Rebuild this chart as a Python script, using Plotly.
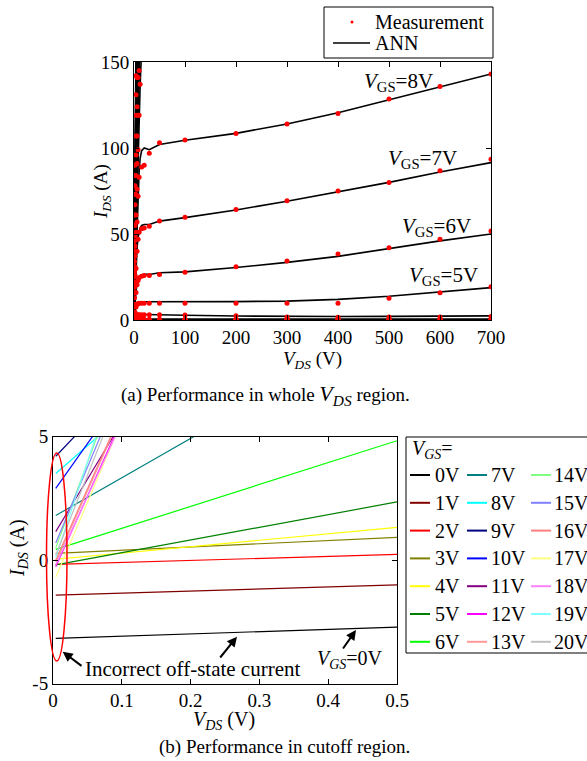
import plotly.graph_objects as go

W, H = 587, 761
def px(x): return x / W
def py(y): return 1 - y / H

FONT = "Liberation Serif, Times New Roman, serif"

# ---------------- (a) whole VDS region ----------------
meas_vds = [0, 2, 4, 6, 8, 10, 15, 20, 30, 50, 100, 200, 300, 400, 500, 600, 700]
meas_8v = [0, 21, 40, 57, 72, 83, 89, 90, 97, 103, 104.6, 108.5, 114, 120, 128.5, 135.7, 143]
meas_7v = [0, 16, 30, 40, 47, 51, 53, 53.5, 54.5, 57.5, 59.7, 64.3, 69.4, 75, 80, 86.8, 93.4]
meas_6v = [0, 9, 16, 20.5, 23, 24.5, 25.5, 25.8, 25.8, 26.5, 27.7, 31, 34.3, 38.4, 42, 46.9, 51.7]
meas_5v = [0, 4.5, 7.5, 9, 9.6, 9.8, 9.8, 9.7, 9.7, 9.7, 9.7, 9.7, 9.7, 9.7, 12.6, 15.9, 19.4]
meas_4v = [0, 1.8, 2.6, 2.9, 3.0, 3.0, 3.0, 3.0, 3.0, 3.0, 2.9, 2.4, 1.8, 1.6, 1.7, 1.8, 2.1]
meas_3v = [0, 0.3, 0.4, 0.5, 0.5, 0.5, 0.5, 0.5, 0.5, 0.5, 0.5, 0.4, 0.4, 0.4, 0.4, 0.4, 0.4]
meas_low = [0, 0, 0, 0, 0, 0, 0, 0, 0, 0, 0, 0, 0, 0, 0, 0, 0]

ann_vds = [0, 2, 4, 6, 8, 10, 12, 15, 20, 30, 50, 100, 200, 300, 400, 500, 600, 700]
ann_8v = [0, 20, 40, 58, 74, 86, 94, 98.5, 100, 99, 102, 104.5, 108.5, 114, 120.5, 128, 135.5, 143]
ann_7v = [0, 17, 32, 42, 48, 51.5, 53.5, 55, 55.5, 55.5, 57.5, 59.5, 64, 69, 74.5, 80, 86, 91.5]
ann_6v = [0, 10, 17, 21, 23.5, 25, 25.8, 26.3, 26.5, 26.5, 27.5, 28, 30.5, 33.5, 37, 41.5, 46, 50]
ann_5v = [0, 5, 8, 9.5, 10.2, 10.5, 10.6, 10.6, 10.6, 10.5, 10.7, 10.8, 10.7, 11, 12, 13.8, 16.3, 18.8]
ann_4v = [0, 2, 2.8, 3.1, 3.2, 3.2, 3.2, 3.2, 3.2, 3.1, 3, 2.8, 2.3, 2, 2, 2.1, 2.2, 2.4]
ann_3v = [0, 0.4, 0.5, 0.6, 0.6, 0.6, 0.6, 0.6, 0.6, 0.6, 0.6, 0.6, 0.5, 0.5, 0.5, 0.5, 0.5, 0.5]
ann_low = [0, 0, 0, 0, 0, 0, 0, 0, 0, 0, 0, 0, 0, 0, 0, 0, 0, 0]

hi_vds = [0, 1, 2, 4, 6, 8, 10, 12, 15]
ann_9v = [0, 12, 25, 50, 75, 98, 118, 136, 158]
ann_10v = [0, 15, 30, 60, 90, 118, 144, 168, 200]
ann_11v = [0, 18, 36, 72, 106, 140, 172, 200, 240]
ann_12v = [0, 21, 42, 83, 123, 162, 200, 235, 280]
ann_13v = [0, 24, 48, 95, 140, 185, 228, 270, 320]
ann_14v = [0, 27, 54, 106, 157, 207, 255, 300, 360]
ann_15v = [0, 30, 60, 118, 174, 230, 284, 335, 400]
ann_16v = [0, 33, 66, 130, 192, 252, 310, 368, 440]
ann_17v = [0, 36, 72, 141, 208, 274, 338, 400, 480]
ann_18v = [0, 39, 77, 152, 225, 296, 365, 432, 520]
ann_19v = [0, 42, 83, 163, 242, 318, 392, 464, 560]
ann_20v = [0, 45, 89, 175, 258, 340, 420, 496, 600]
meas_9v = [0, 13, 26, 51, 76, 99, 119, 137, 160]
meas_10v = [0, 16, 31, 61, 91, 119, 145, 170, 202]
meas_11v = [0, 19, 37, 73, 107, 141, 173, 201, 242]
meas_12v = [0, 22, 43, 84, 124, 163, 201, 236, 282]
meas_13v = [0, 25, 49, 96, 141, 186, 229, 271, 322]
meas_14v = [0, 28, 55, 107, 158, 208, 256, 301, 362]
meas_15v = [0, 31, 61, 119, 175, 231, 285, 336, 402]
meas_16v = [0, 34, 67, 131, 193, 253, 311, 369, 442]
meas_17v = [0, 37, 73, 142, 209, 275, 339, 401, 482]
meas_18v = [0, 40, 78, 153, 226, 297, 366, 433, 522]
meas_19v = [0, 43, 84, 164, 243, 319, 393, 465, 562]
meas_20v = [0, 46, 90, 176, 259, 341, 421, 497, 602]

top_ticks = [0, 100, 200, 300, 400, 500, 600, 700]
top_yticks = [0, 50, 100, 150]

# ---------------- (b) cutoff region ----------------
vgs_names = ["0V", "1V", "2V", "3V", "4V", "5V", "6V", "7V", "8V", "9V", "10V",
             "11V", "12V", "13V", "14V", "15V", "16V", "17V", "18V", "19V", "20V"]
vgs_colors = ["#000000", "#800000", "#ff0000", "#808000", "#ffff00", "#008000", "#00ff00",
              "#008080", "#00ffff", "#000080", "#0000ff", "#800080", "#ff00ff", "#ff9999",
              "#80ff80", "#8080ff", "#ff7f7f", "#ffff80", "#ff80ff", "#80ffff", "#c0c0c0"]
cut_vds = [0.004, 0.5]
cut_start = [-3.17, -1.42, -0.18, 0.27, 0.03, -0.2, 0.43, 1.8, 3.5, 4.2, 2.9,
             1.15, -0.27, -0.1, 0.49, 0.69, 0.0, -0.7, -0.2, 0.1, 0.2]
cut_end = [-2.72, -1.01, 0.23, 0.92, 1.32, 2.35, 4.83, 9.7, 15.6, 18.7, 22.4,
           24.0, 30.5, 31.0, 37.7, 33.7, 31.0, 32.0, 29.6, 41.8, 34.9]
bot_xticks = [0, 0.1, 0.2, 0.3, 0.4, 0.5]
bot_xtext = ["0", "0.1", "0.2", "0.3", "0.4", "0.5"]
bot_yticks = [-5, 0, 5]
bot_ytext = ["-5", "0", "5"]

fig = go.Figure()

meas_sets = [(meas_vds, s) for s in [meas_low, meas_low, meas_low, meas_3v, meas_4v, meas_5v,
                                      meas_6v, meas_7v, meas_8v]]
meas_sets += [(hi_vds, s) for s in [meas_9v, meas_10v, meas_11v, meas_12v, meas_13v, meas_14v,
                                    meas_15v, meas_16v, meas_17v, meas_18v, meas_19v, meas_20v]]
ann_sets = [(ann_vds, s) for s in [ann_low, ann_low, ann_low, ann_3v, ann_4v, ann_5v,
                                   ann_6v, ann_7v, ann_8v]]
ann_sets += [(hi_vds, s) for s in [ann_9v, ann_10v, ann_11v, ann_12v, ann_13v, ann_14v,
                                   ann_15v, ann_16v, ann_17v, ann_18v, ann_19v, ann_20v]]

for xv, yv in ann_sets:
    fig.add_trace(go.Scatter(x=xv, y=yv, mode="lines", line=dict(color="black", width=1.6),
                             name="ANN", showlegend=False, xaxis="x", yaxis="y"))
for xv, yv in meas_sets:
    fig.add_trace(go.Scatter(x=xv, y=yv, mode="markers", marker=dict(color="red", size=5),
                             name="Measurement", showlegend=False, xaxis="x", yaxis="y"))

for i in range(len(vgs_names)):
    fig.add_trace(go.Scatter(x=cut_vds, y=[cut_start[i], cut_end[i]], mode="lines",
                             line=dict(color=vgs_colors[i], width=1.2), showlegend=False,
                             name=vgs_names[i], xaxis="x2", yaxis="y2"))

axis_common = dict(showline=True, linecolor="black", linewidth=1, mirror="ticks", ticks="inside",
                   ticklen=5, tickcolor="black", showgrid=False, zeroline=False, automargin=False,
                   tickfont=dict(family=FONT, size=19, color="black"))

fig.update_layout(
    width=W, height=H, margin=dict(l=0, r=0, t=0, b=0, autoexpand=False),
    paper_bgcolor="white", plot_bgcolor="white",
    font=dict(family=FONT, color="black"), showlegend=False,
    xaxis=dict(domain=[px(134), px(491)], anchor="y", range=[0, 700], tickvals=top_ticks, **axis_common),
    yaxis=dict(domain=[py(320), py(62)], anchor="x", range=[0, 150], tickvals=top_yticks, **axis_common),
    xaxis2=dict(domain=[px(53), px(397)], anchor="y2", range=[0, 0.5], tickvals=bot_xticks,
                ticktext=bot_xtext, **axis_common),
    yaxis2=dict(domain=[py(683.5), py(436.5)], anchor="x2", range=[-5, 5], tickvals=bot_yticks,
                ticktext=bot_ytext, **axis_common),
)

ann = []
def txt(x, y, s, size=20, xanchor="center", **kw):
    ann.append(dict(x=px(x), y=py(y), xref="paper", yref="paper", text=s, showarrow=False,
                    xanchor=xanchor, yanchor="middle",
                    font=dict(family=FONT, size=size, color="black"), **kw))

shapes = []

# top legend (Measurement / ANN)
shapes.append(dict(type="rect", xref="paper", yref="paper", x0=px(324), x1=px(493),
                   y0=py(58), y1=py(7), line=dict(color="black", width=1), fillcolor="white"))
shapes.append(dict(type="circle", xref="paper", yref="paper", x0=px(350.5), x1=px(353.5),
                   y0=py(23.5), y1=py(20.5), line=dict(color="red", width=0), fillcolor="red"))
shapes.append(dict(type="line", xref="paper", yref="paper", x0=px(333), x1=px(370),
                   y0=py(43), y1=py(43), line=dict(color="black", width=1.6)))
txt(373, 22, "Measurement", xanchor="left")
txt(373, 43, "ANN", xanchor="left")

# top labels
txt(398, 82, "<i>V</i><sub>GS</sub>=8V", size=21)
txt(422, 159, "<i>V</i><sub>GS</sub>=7V", size=21)
txt(436, 227, "<i>V</i><sub>GS</sub>=6V", size=21)
txt(443, 276, "<i>V</i><sub>GS</sub>=5V", size=21)
txt(102, 192, "<i>I<sub>DS</sub></i> (A)", size=19, textangle=-90)
txt(312, 360, "<i>V<sub>DS</sub></i> (V)", size=19)
txt(265, 395, "(a) Performance in whole <span style='font-size:22px'><i>V<sub>DS</sub></i></span> region.", size=19)

# bottom labels
txt(18, 548, "<i>I<sub>DS</sub></i> (A)", size=20, textangle=-90)
txt(224, 720, "<i>V<sub>DS</sub></i> (V)", size=20)
txt(284, 747, "(b) Performance in cutoff region.", size=19)
txt(192, 669, "Incorrect off-state current", size=21)
txt(350, 659, "<i>V<sub>GS</sub></i>=0V", size=20)

# arrows
def arrow(hx, hy, tx, ty):
    ann.append(dict(x=px(hx), y=py(hy), xref="paper", yref="paper", ax=tx - hx, ay=ty - hy,
                    axref="pixel", ayref="pixel", text="", showarrow=True, arrowhead=2,
                    arrowsize=1, arrowwidth=2, arrowcolor="black"))
arrow(62.7, 651.7, 83, 667)
arrow(237, 636.7, 219, 659)
arrow(356, 630, 342, 650)

# bottom legend (manual)
txt(410, 449, "<i>V<sub>GS</sub></i>=", size=20, xanchor="left")
col_line = [410, 467, 531]
col_text = [433, 489, 552]
for i, name in enumerate(vgs_names):
    c, r = i // 7, i % 7
    yy = 475 + r * 27.8
    shapes.append(dict(type="line", xref="paper", yref="paper", x0=px(col_line[c]),
                       x1=px(col_line[c] + 20), y0=py(yy), y1=py(yy),
                       line=dict(color=vgs_colors[i], width=2)))
    txt(col_text[c], yy, name, size=20, xanchor="left")
shapes.append(dict(type="rect", xref="paper", yref="paper", x0=px(406), x1=px(600),
                   y0=py(653), y1=py(437), line=dict(color="black", width=1)))
# ellipse marking incorrect region
shapes.append(dict(type="circle", xref="paper", yref="paper", x0=px(46.5), x1=px(67),
                   y0=py(661), y1=py(453), line=dict(color="red", width=1.5)))

fig.update_layout(annotations=ann, shapes=shapes)
fig.write_html("out.html")
